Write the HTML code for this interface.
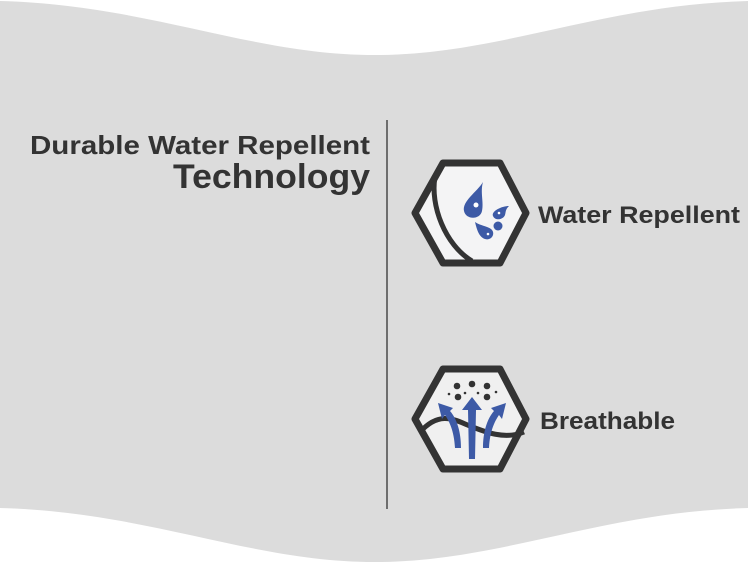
<!DOCTYPE html>
<html><head><style>body{margin:0;background:#fff}</style></head><body>
<svg width="750" height="563" viewBox="0 0 750 563" xmlns="http://www.w3.org/2000/svg" style="display:block">
<path d="M0 1 C150 5 250 55 375 55 C500 55 600 5 748 1 L748 508 C600 512 500 562 375 562 C250 562 150 512 0 508 Z" fill="#dcdcdc"/>
<line x1="387" y1="120" x2="387" y2="509" stroke="#333" stroke-width="1.3"/>
<g font-family="Liberation Sans, sans-serif" font-weight="bold" fill="#333">
<text x="370" y="154" font-size="26" text-anchor="end" textLength="340" lengthAdjust="spacingAndGlyphs">Durable Water Repellent</text>
<text x="370" y="188" font-size="34" text-anchor="end" textLength="197" lengthAdjust="spacingAndGlyphs">Technology</text>
<text x="538" y="223" font-size="24" textLength="202" lengthAdjust="spacingAndGlyphs">Water Repellent</text>
<text x="540" y="429" font-size="24" textLength="135" lengthAdjust="spacingAndGlyphs">Breathable</text>
</g>
<!-- hex 1 -->
<polygon points="415,213 443,163 500,163 526,213 500,263 443,263" fill="#f4f4f5" stroke="#333" stroke-width="7" stroke-linejoin="round"/>
<path d="M435 177 C430 205 445 245 472 261" fill="none" stroke="#333" stroke-width="5"/>
<g fill="#3d5aa6">
<path d="M483 182 C477 192 462 201 464 211 C466 220 480 220 482 211 C484 202 480 192 483 182Z"/>
<path d="M509 206 C502 206 491 211 493 216 C495 221 503 220 505 215 C506 212 505 210 509 206Z"/>
<path d="M475 222 C477 230 479 237 485 239 C492 241 496 233 491 229 C487 226 481 226 475 222Z"/>
<circle cx="498" cy="226" r="4.5"/>
</g>
<g fill="#fff"><circle cx="476" cy="205" r="2.5"/><circle cx="499" cy="213" r="1.3"/><circle cx="488" cy="234" r="1.3"/></g>
<!-- hex 2 -->
<polygon points="415,419 443,369 500,369 526,419 500,469 443,469" fill="#f0f0f0" stroke="#333" stroke-width="7" stroke-linejoin="round"/>
<path d="M420 432 C440 410 455 420 470 426 C485 432 505 440 524 432" fill="none" stroke="#333" stroke-width="5"/>
<g fill="#333"><circle cx="457" cy="386" r="3.3"/><circle cx="472" cy="384" r="3.3"/><circle cx="487" cy="386" r="3.3"/><circle cx="458" cy="397" r="3.3"/><circle cx="487" cy="397" r="3.3"/><circle cx="449" cy="394" r="1.3"/><circle cx="465" cy="393" r="1.3"/><circle cx="478" cy="393" r="1.3"/><circle cx="496" cy="392" r="1.3"/></g>
<g fill="#3d5aa6">
<path d="M469 459 L468 410 L462 410 L472 397 L482 410 L476 410 L475 459Z"/>
<path d="M455 448 C454 430 449 421 445 415 L442 419 L438 403 L453 408 L450 411 C457 419 461 432 461 448Z"/>
<path d="M489 448 C490 430 495 421 499 415 L502 419 L506 403 L491 408 L494 411 C487 419 483 432 483 448Z"/>
</g>
</svg>
</body></html>
